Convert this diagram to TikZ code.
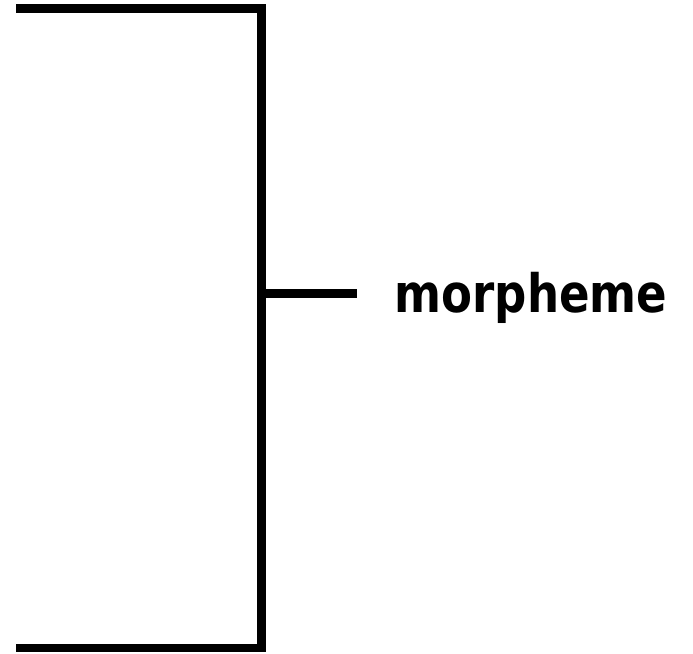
\documentclass[tikz,border=0pt]{standalone}
\usepackage{fontspec}
\setmainfont{DejaVu Sans}
\newfontfamily\condbold{DejaVu Sans Condensed Bold}
\tikzset{
  bracketline/.style={line width=8.3pt, line join=miter},
  label/.style={font=\condbold\fontsize{53}{60}\selectfont, inner sep=0pt, anchor=base west}
}
\begin{document}
\begin{tikzpicture}[x=1pt, y=-1pt]
  \useasboundingbox (0,0) rectangle (693,653);
  % bracket spine and arms
  \coordinate (top) at (16,8.5);
  \coordinate (bot) at (16,648.3);
  \coordinate (mid) at (261.5,293.5);
  \coordinate (tip) at (357,293.5);
  \draw[bracketline] (top) -| (261.5,648.3) -- (bot);
  \draw[bracketline] (mid) -- (tip);
  \node[label] (lab) at (394.5,312) {\scalebox{0.945}[1]{morpheme}};
\end{tikzpicture}
\end{document}
